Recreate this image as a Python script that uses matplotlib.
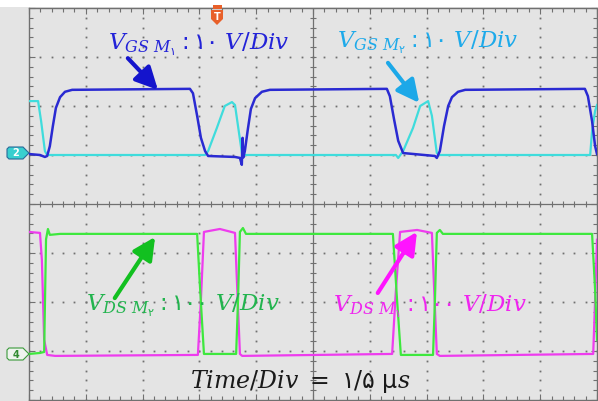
import matplotlib
matplotlib.use("Agg")
import matplotlib.pyplot as plt
import numpy as np
from matplotlib.patches import Polygon, Rectangle

plt.rcParams["mathtext.fontset"] = "custom"
plt.rcParams["mathtext.it"] = "DejaVu Serif:italic"
plt.rcParams["mathtext.rm"] = "DejaVu Sans"
plt.rcParams["mathtext.bf"] = "DejaVu Serif:bold"

# scope settings
TIME_PER_DIV = 1.5      # us
VGS_PER_DIV = 10.0      # V
VDS_PER_DIV = 100.0     # V
VGS_OFFSET = 1.0        # div (channel 2 ground marker)
VDS_OFFSET = -3.06      # div (channel 4 ground marker)

# VGS of M1 (blue), time in us, volts
vgs1_t = [0.0, 0.29, 0.42, 0.48, 0.55, 0.63, 0.71, 0.82, 0.95, 1.14, 4.25, 4.33, 4.44,
          4.54, 4.65, 4.73, 5.44, 5.57, 5.62, 5.64, 5.66, 5.70, 5.78, 5.86, 5.97, 6.15,
          6.36, 9.45, 9.53, 9.64, 9.75, 9.88, 10.72, 10.77, 10.85, 10.96, 11.07, 11.17,
          11.33, 11.52, 14.68, 14.76, 14.87, 14.95, 15.0]
vgs1_v = [0.2, 0.0, -0.4, -0.2, 1.8, 5.9, 9.6, 11.8, 12.9, 13.3, 13.5, 12.6, 8.0,
          3.5, 0.8, -0.2, -0.4, -0.6, -2.0, 3.5, -0.5, 0.8, 5.3, 9.4, 11.6, 12.9,
          13.3, 13.5, 12.0, 7.3, 2.9, 0.4, -0.2, -0.6, 0.8, 5.9, 10.0, 11.8,
          12.9, 13.3, 13.5, 12.0, 6.9, 1.8, 0.2]

# VGS of M2 (cyan)
vgs2_t = [0.0, 0.24, 0.32, 0.42, 0.48, 4.65, 4.73, 4.96, 5.17, 5.36, 5.44, 5.52, 5.63,
          9.69, 9.75, 9.88, 10.14, 10.33, 10.54, 10.64, 10.77, 10.85, 14.82, 14.87,
          14.95, 15.0]
vgs2_v = [11.0, 11.0, 6.9, 0.8, 0.0, 0.0, 0.8, 5.5, 10.0, 10.8, 10.2, 5.9, 0.0,
          0.0, -0.6, 0.8, 5.5, 10.0, 11.0, 8.0, 0.4, 0.0, 0.0, 4.9,
          9.0, 10.2]

# VDS of M2 (green)
vds2_t = [0.0, 0.29, 0.40, 0.45, 0.50, 0.55, 0.82, 4.44, 4.52, 4.62, 5.47, 5.52, 5.57,
          5.65, 5.73, 9.61, 9.72, 9.82, 10.67, 10.72, 10.77, 10.85, 10.93, 14.87,
          14.95, 15.0]
vds2_v = [0, 2, 4, 234, 255, 243, 245, 245, 131, 0, 0, 110, 249,
          257, 245, 245, 110, -2, -2, 110, 247, 253, 245, 245,
          131, 29]

# VDS of M1 (magenta)
vds1_t = [0.0, 0.29, 0.34, 0.40, 0.48, 0.69, 4.46, 4.54, 4.62, 5.04, 5.44, 5.49, 5.57,
          5.63, 9.59, 9.69, 9.80, 10.25, 10.64, 10.70, 10.77, 10.85, 14.90, 14.95, 15.0]
vds1_v = [249, 247, 192, 29, -2, -4, -2, 110, 249, 255, 247, 151, 0,
          -4, 0, 131, 249, 253, 247, 131, 0, -4, 0, 110, 233]

label_vgs1 = r"$V_{GS\ M_{۱}}:\mathrm{۱۰}\ V/Div$"
label_vgs2 = r"$V_{GS\ M_{۲}}:\mathrm{۱۰}\ V/Div$"
label_vds2 = r"$V_{DS\ M_{۲}}:\mathrm{۱۰۰}\ V/Div$"
label_vds1 = r"$V_{DS\ M_{۱}}:\mathrm{۱۰۰}\ V/Div$"
label_time = r"$Time/Div\ =\ \mathrm{۱/۵\ μ}s$"

BG = "#e4e4e4"
GRID = "#707070"

W, H = 598, 401
fig = plt.figure(figsize=(W / 100, H / 100), dpi=100, facecolor="white")
fig.add_artist(Rectangle((0, 0), 597 / W, 1 - 7 / H, transform=fig.transFigure,
                         facecolor=BG, edgecolor="none", zorder=-10))

ax = fig.add_axes([29 / W, 1 / H, 568 / W, 392 / H])
ax.set_facecolor(BG)
ax.set_xlim(0, 10)
ax.set_ylim(-4, 4)

# frame with inward ticks
for side in ax.spines.values():
    side.set_color(GRID)
    side.set_linewidth(1.0)
ax.set_xticks(np.arange(0, 10.01, 1))
ax.set_yticks(np.arange(-4, 4.01, 1))
ax.set_xticks(np.arange(0, 10.01, 0.2), minor=True)
ax.set_yticks(np.arange(-4, 4.01, 0.2), minor=True)
ax.tick_params(which="both", direction="in", top=True, right=True, colors=GRID,
               labelbottom=False, labelleft=False, width=0.8)
ax.tick_params(which="major", length=4)
ax.tick_params(which="minor", length=3)

# dotted graticule
for gx in range(1, 10):
    if gx == 5:
        continue
    yy = np.arange(-4, 4.01, 0.2)
    ax.plot(np.full_like(yy, gx), yy, ls="none", marker="s", ms=1.3, color=GRID, mew=0)
for gy in range(-3, 4):
    if gy == 0:
        continue
    xx = np.arange(0, 10.01, 0.2)
    ax.plot(xx, np.full_like(xx, gy), ls="none", marker="s", ms=1.3, color=GRID, mew=0)

# centre cross with ticks
ax.axhline(0, color=GRID, lw=0.9)
ax.axvline(5, color=GRID, lw=0.9)
xx = np.arange(0, 10.01, 0.2)
ax.plot(xx, np.zeros_like(xx), ls="none", marker="|", ms=5, color=GRID, mew=0.8)
yy = np.arange(-4, 4.01, 0.2)
ax.plot(np.full_like(yy, 5), yy, ls="none", marker="_", ms=5, color=GRID, mew=0.8)


def to_div(t, v, per_div, offset):
    return np.asarray(t) / TIME_PER_DIV, np.asarray(v) / per_div + offset


ax.plot(*to_div(vgs2_t, vgs2_v, VGS_PER_DIV, VGS_OFFSET), color="#3fdcdc", lw=1.6, zorder=3)
ax.plot(*to_div(vgs1_t, vgs1_v, VGS_PER_DIV, VGS_OFFSET), color="#2a2ad2", lw=1.8, zorder=4)
ax.plot(*to_div(vds1_t, vds1_v, VDS_PER_DIV, VDS_OFFSET), color="#ee3cee", lw=1.6, zorder=3)
ax.plot(*to_div(vds2_t, vds2_v, VDS_PER_DIV, VDS_OFFSET), color="#3ee83e", lw=1.6, zorder=4)

# labels and arrows
txt = dict(fontsize=16.5, ha="left", va="baseline", transform=ax.transAxes, zorder=6)
ax.text(0.139, 0.893, label_vgs1, color="#2323d8", **txt)
ax.text(0.542, 0.898, label_vgs2, color="#1eaaea", **txt)
ax.text(0.100, 0.227, label_vds2, color="#22b44e", **txt)
ax.text(0.535, 0.224, label_vds1, color="#f025f0", **txt)
ax.text(0.283, 0.031, label_time, color="#1a1a1a", fontsize=17, ha="left",
        va="baseline", transform=ax.transAxes, zorder=6)

arrow_specs = [
    ((0.174, 0.872), (0.227, 0.791), "#1414cc"),
    ((0.632, 0.860), (0.687, 0.758), "#1ca8e8"),
    ((0.151, 0.260), (0.222, 0.416), "#12c020"),
    ((0.614, 0.273), (0.683, 0.429), "#ff14ff"),
]
for tail, tip, col in arrow_specs:
    ax.annotate("", xy=tip, xytext=tail, xycoords="axes fraction", textcoords="axes fraction",
                arrowprops=dict(arrowstyle="-|>,head_length=0.9,head_width=0.45", lw=3.0,
                                color=col, shrinkA=0, shrinkB=0, mutation_scale=15), zorder=7)


def px(points):
    return [(x / W, 1 - y / H) for x, y in points]


# channel markers and trigger marker
ch2 = Polygon(px([(7, 149), (9, 147), (23, 147), (29, 153), (23, 159), (9, 159), (7, 157)]),
              closed=True, transform=fig.transFigure, facecolor="#38cfcf", edgecolor="#2a6a9a", lw=0.8)
fig.add_artist(ch2)
fig.text(16 / W, 1 - 153.5 / H, "2", color="white", fontsize=7, fontweight="bold",
         ha="center", va="center")
ch4 = Polygon(px([(7, 350), (9, 348), (23, 348), (29, 354), (23, 360), (9, 360), (7, 358)]),
              closed=True, transform=fig.transFigure, facecolor="#eef4ee", edgecolor="#3a9a3a", lw=0.8)
fig.add_artist(ch4)
fig.text(16 / W, 1 - 354.5 / H, "4", color="#2f8a2f", fontsize=7, fontweight="bold",
         ha="center", va="center")
fig.add_artist(Rectangle((213 / W, 1 - 9 / H), 9 / W, 4 / H, transform=fig.transFigure,
                         facecolor="#e8602a", edgecolor="none"))
trig = Polygon(px([(211, 10), (223, 10), (223, 19), (217, 25), (211, 19)]), closed=True,
               transform=fig.transFigure, facecolor="#e8602a", edgecolor="none")
fig.add_artist(trig)
fig.text(217 / W, 1 - 17 / H, "T", color="white", fontsize=7, fontweight="bold",
         ha="center", va="center")

fig.savefig("out.png", dpi=100, facecolor="white")
